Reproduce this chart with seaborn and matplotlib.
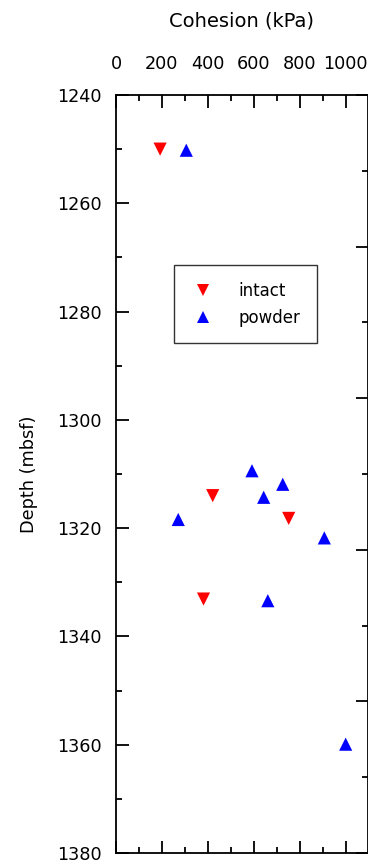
import matplotlib
matplotlib.use("Agg")
import matplotlib.pyplot as plt
from matplotlib.ticker import MultipleLocator, NullFormatter
import numpy as np
import pandas as pd
import seaborn as sns

# Cohesion measurements vs. depth
intact_cohesion = [192, 421, 752, 381]
intact_depth = [1250.0, 1314.0, 1318.2, 1333.1]
powder_cohesion = [306, 592, 726, 643, 271, 907, 661, 1000]
powder_depth = [1250.2, 1309.4, 1311.9, 1314.3, 1318.4, 1321.8, 1333.4, 1359.9]
sample_types = ["intact", "powder"]

df = pd.DataFrame({
    "Cohesion": intact_cohesion + powder_cohesion,
    "Depth": intact_depth + powder_depth,
    "Sample": ["intact"] * len(intact_cohesion) + ["powder"] * len(powder_cohesion),
})

sns.set_style("white")
plt.rcParams["font.family"] = ["DejaVu Sans"]
plt.rcParams["text.color"] = "black"
plt.rcParams["axes.labelcolor"] = "black"
plt.rcParams["xtick.color"] = "black"
plt.rcParams["ytick.color"] = "black"

W, H = 368, 863
fig = plt.figure(figsize=(W / 100, H / 100), dpi=100)
ax = fig.add_axes([116 / W, 1 - 853 / H, 251.5 / W, (853 - 95) / H])

sns.scatterplot(
    data=df, x="Cohesion", y="Depth", hue="Sample", style="Sample",
    hue_order=sample_types, style_order=sample_types,
    palette={"intact": "#ff0000", "powder": "#0000ff"},
    markers={"intact": "v", "powder": "^"},
    s=90, linewidth=0, ax=ax, legend=True,
)

ax.set_xlim(0, 1095)
ax.set_ylim(1380, 1240)
ax.xaxis.set_major_locator(MultipleLocator(200))
ax.xaxis.set_minor_locator(MultipleLocator(100))
ax.yaxis.set_major_locator(MultipleLocator(20))
ax.yaxis.set_minor_locator(MultipleLocator(10))

for sp in ax.spines.values():
    sp.set_linewidth(1.3)
    sp.set_color("black")

ax.tick_params(axis="both", which="both", direction="in", colors="black",
               labelcolor="black", width=1.3)
ax.tick_params(axis="both", which="major", length=9)
ax.tick_params(axis="both", which="minor", length=4.5)
ax.tick_params(axis="x", which="both", top=True, bottom=True,
               labeltop=True, labelbottom=False)
ax.tick_params(axis="x", which="major", pad=16, labelsize=12.7)
ax.tick_params(axis="y", which="both", left=True, right=False)
ax.tick_params(axis="y", which="major", pad=10, labelsize=12.7)

ax.xaxis.set_label_position("top")
ax.set_xlabel("Cohesion (kPa)", fontsize=14, labelpad=20, color="black")
ax.set_ylabel("Depth (mbsf)", fontsize=12.8, labelpad=14, color="black")

# secondary scale on the right edge, ticks only
ax2 = ax.twinx()
ax2.set_ylim(0, 10)
ax2.yaxis.set_major_locator(MultipleLocator(2))
ax2.yaxis.set_minor_locator(MultipleLocator(1))
ax2.yaxis.set_major_formatter(NullFormatter())
ax2.tick_params(axis="y", which="both", direction="in", right=True, left=False,
                width=1.3, colors="black")
ax2.tick_params(axis="y", which="major", length=9)
ax2.tick_params(axis="y", which="minor", length=4.5)
for sp in ax2.spines.values():
    sp.set_visible(False)

leg = ax.legend(
    loc="upper left", bbox_to_anchor=(58 / 251.5, 1 - 170 / 758),
    frameon=True, fancybox=False, edgecolor="black", fontsize=12,
    markerscale=0.9, handletextpad=1.35, borderpad=1.0, labelspacing=0.55,
    borderaxespad=0, handlelength=1.5,
)
leg.get_frame().set_linewidth(1.0)
for t in leg.get_texts():
    t.set_color("black")

fig.savefig("out.png", dpi=100, facecolor="white")
